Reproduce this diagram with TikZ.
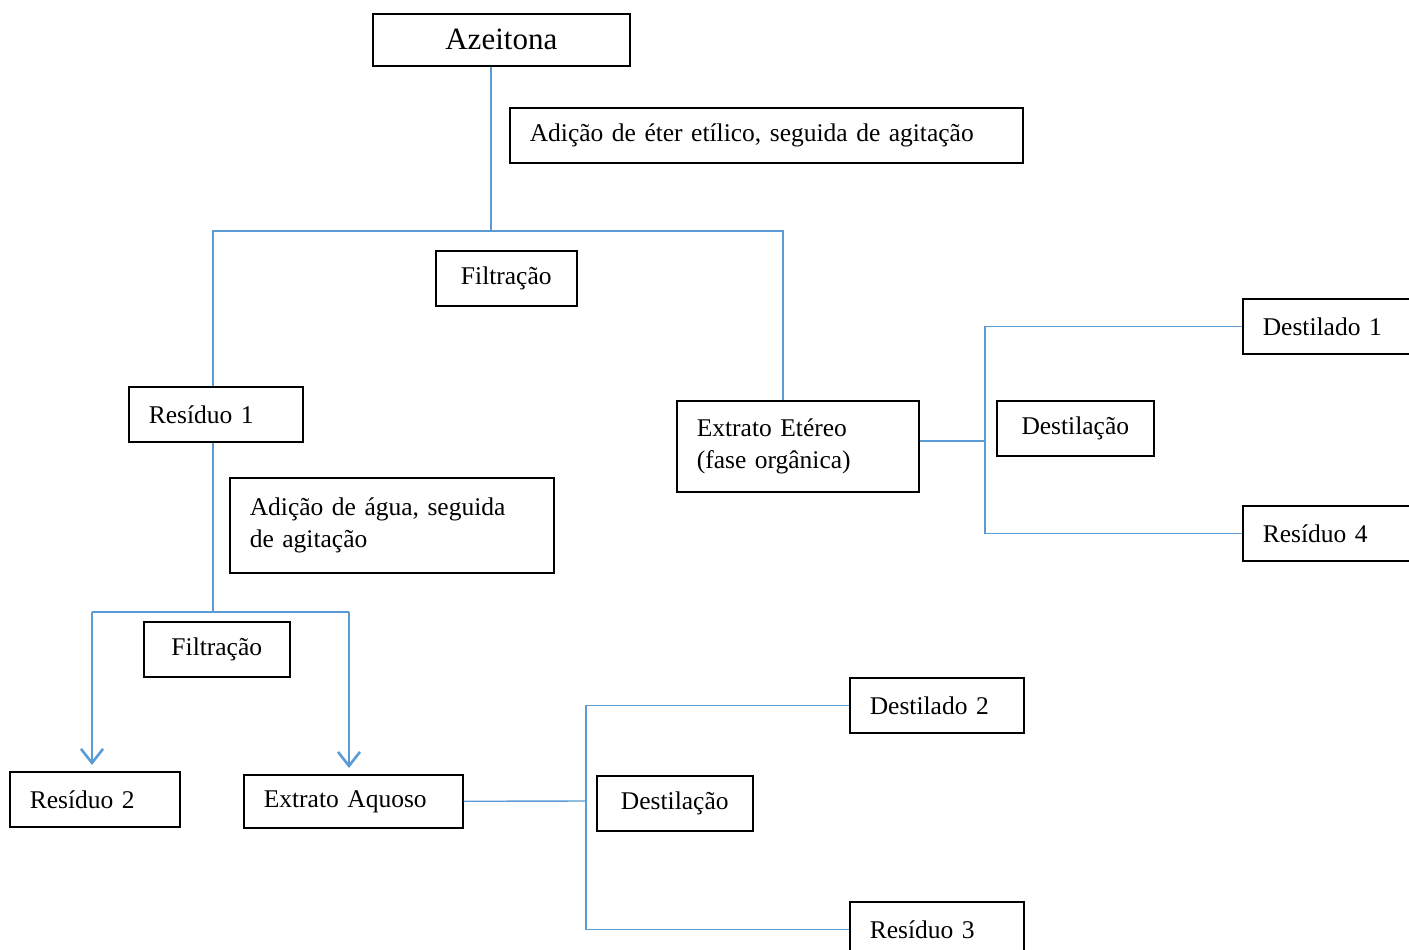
\documentclass[tikz,border=0pt]{standalone}
\usepackage{fontspec}
\setmainfont{Liberation Serif}
\usetikzlibrary{arrows.meta}
\definecolor{linkblue}{HTML}{5B9BD5}
\begin{document}
\begin{tikzpicture}[x=1pt, y=-1pt,
    box/.style={draw=black, line width=1.6pt, anchor=north west, inner sep=0pt, font=\fontsize{25.5}{32}\selectfont},
    lbox/.style={box, align=left, inner xsep=20pt, text width=#1},
    link/.style={draw=linkblue, line width=1.4pt},
    arr/.style={draw=linkblue, line width=2.6pt, shorten >=6pt, -{Straight Barb[length=14pt, width=22pt]}}
]
\clip (0,0) rectangle (1409,950);

\node[box, minimum width=257, minimum height=52, font=\fontsize{31}{36}\selectfont, text depth=2pt] (azeitona) at (372,13) {Azeitona};
\node[lbox=473, minimum height=55] (eter) at (509,107) {Adição de éter etílico, seguida de agitação};
\node[box, minimum width=141, minimum height=55] (filt1) at (435,250) {Filtração};
\node[lbox=134, minimum height=55] (res1) at (128,386) {Resíduo 1};
\node[lbox=284, minimum height=95] (agua) at (229,477) {Adição de água, seguida\\de agitação};
\node[box, minimum width=146, minimum height=55] (filt2) at (143,621) {Filtração};
\node[lbox=130, minimum height=55] (res2) at (9,771) {Resíduo 2};
\node[lbox=179, minimum height=53] (aquoso) at (243,774) {Extrato Aquoso};
\node[box, minimum width=156, minimum height=55] (destil2) at (596,775) {Destilação};
\node[lbox=134, minimum height=55] (dest2) at (849,677) {Destilado 2};
\node[lbox=134, minimum height=55] (res3) at (849,901) {Resíduo 3};
\node[lbox=202, minimum height=91] (etereo) at (676,400) {Extrato Etéreo\\(fase orgânica)};
\node[box, minimum width=157, minimum height=55] (destil1) at (996,400) {Destilação};
\node[lbox=150, minimum height=55] (dest1) at (1242,298) {Destilado 1};
\node[lbox=150, minimum height=55] (res4) at (1242,505) {Resíduo 4};

% junctions
\coordinate (j1) at (491,231);
\coordinate (jl) at (213,231);
\coordinate (jr) at (783,231);
\coordinate (j2) at (213,612);
\coordinate (a1) at (92,612);
\coordinate (a2) at (349,612);
\coordinate (d1) at (985,441);
\coordinate (d2) at (586,801);

% first filtration
\draw[link] (azeitona.south -| j1) -- (j1);
\draw[link] (res1.north -| jl) -- (jl) -- (jr) -- (etereo.north -| jr);

% second filtration
\draw[link] (res1.south -| j2) -- (j2);
\draw[link] (a1) -- (a2);
\draw[arr] (a1) -- (res2.north -| a1);
\draw[arr] (a2) -- (aquoso.north -| a2);

% distillations
\draw[link] (etereo.east |- d1) -- (d1);
\draw[link] (dest1.west) -| (d1) |- (res4.west);
\draw[link] (aquoso.east) -- (d2);
\draw[link] (dest2.west) -| (d2) |- (res3.west);
\end{tikzpicture}
\end{document}
